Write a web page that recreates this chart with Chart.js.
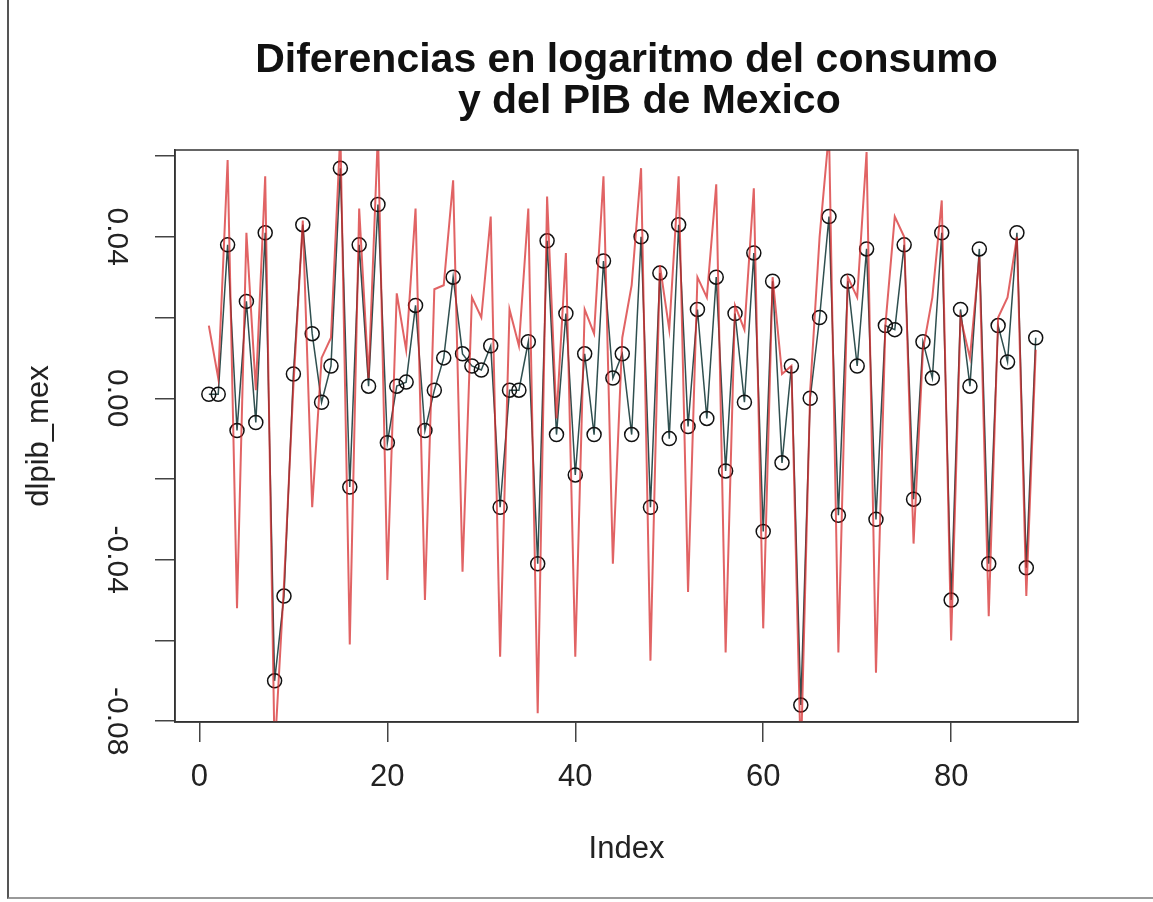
<!DOCTYPE html>
<html>
<head>
<meta charset="utf-8">
<script src="https://cdn.jsdelivr.net/npm/chart.js@4.4.0/dist/chart.umd.min.js"></script>
<style>
  html, body { margin: 0; padding: 0; background: #fff; }
  #wrap { position: relative; width: 1153px; height: 902px; }
  #frame {
    position: absolute; left: 7px; top: 0; width: 1146px; height: 897px;
    border-left: 2px solid #555; border-bottom: 2px solid #999;
    pointer-events: none;
  }
</style>
</head>
<body>
<div id="wrap">
  <canvas id="myChart" width="1153" height="902"></canvas>
  <div id="frame"></div>
</div>
<script>
// differences in log of GDP (black circles) and consumption (red line), Mexico
const dlpib_mex = [
  0.001, 0.001, 0.038, -0.008, 0.024, -0.006, 0.041, -0.070, -0.049, 0.006,
  0.043, 0.016, -0.001, 0.008, 0.057, -0.022, 0.038, 0.003, 0.048, -0.011,
  0.003, 0.004, 0.023, -0.008, 0.002, 0.010, 0.030, 0.011, 0.008, 0.007,
  0.013, -0.027, 0.002, 0.002, 0.014, -0.041, 0.039, -0.009, 0.021, -0.019,
  0.011, -0.009, 0.034, 0.005, 0.011, -0.009, 0.040, -0.027, 0.031, -0.010,
  0.043, -0.007, 0.022, -0.005, 0.030, -0.018, 0.021, -0.001, 0.036, -0.033,
  0.029, -0.016, 0.008, -0.076, 0.000, 0.020, 0.045, -0.029, 0.029, 0.008,
  0.037, -0.030, 0.018, 0.017, 0.038, -0.025, 0.014, 0.005, 0.041, -0.050,
  0.022, 0.003, 0.037, -0.041, 0.018, 0.009, 0.041, -0.042, 0.015
];
const dlcons_mex = [
  0.018, 0.005, 0.059, -0.052, 0.041, 0.002, 0.055, -0.088, -0.046, 0.003,
  0.044, -0.027, 0.010, 0.015, 0.066, -0.061, 0.047, 0.005, 0.066, -0.045,
  0.026, 0.012, 0.047, -0.050, 0.027, 0.028, 0.054, -0.043, 0.025, 0.020,
  0.045, -0.064, 0.022, 0.013, 0.047, -0.078, 0.050, -0.005, 0.036, -0.064,
  0.022, 0.016, 0.055, -0.041, 0.015, 0.028, 0.057, -0.065, 0.033, 0.017,
  0.055, -0.048, 0.030, 0.025, 0.053, -0.063, 0.023, 0.017, 0.052, -0.057,
  0.030, 0.006, 0.008, -0.090, 0.002, 0.040, 0.066, -0.063, 0.030, 0.025,
  0.061, -0.068, 0.018, 0.045, 0.040, -0.036, 0.012, 0.025, 0.049, -0.060,
  0.020, 0.010, 0.035, -0.054, 0.020, 0.025, 0.040, -0.049, 0.012
];
const xTicks = [0, 20, 40, 60, 80];
const yTicks = [-0.08, -0.06, -0.04, -0.02, 0, 0.02, 0.04, 0.06];
const yLabels = [-0.08, -0.04, 0, 0.04]; // R drops every other label

const index = dlpib_mex.map((v, i) => i + 1);
const toPoints = arr => arr.map((v, i) => ({ x: index[i], y: v }));

Chart.defaults.font.family = "'Liberation Sans', Arial, Helvetica, sans-serif";
Chart.defaults.color = '#222';

// the box round the plot region, like R's box()
const boxPlugin = {
  id: 'box',
  afterDatasetsDraw(chart) {
    const { ctx, chartArea: a } = chart;
    ctx.save();
    ctx.strokeStyle = '#333';
    ctx.lineWidth = 1.5;
    ctx.strokeRect(a.left, a.top, a.right - a.left, a.bottom - a.top);
    ctx.restore();
  }
};

const context = document.getElementById('myChart').getContext('2d');
const myChart = new Chart(context, {
  type: 'line',
  data: {
    datasets: [
      {
        label: 'dlcons_mex',
        data: toPoints(dlcons_mex),
        borderColor: 'rgba(214, 39, 40, 0.72)',
        borderWidth: 2,
        pointRadius: 0,
        tension: 0,
        fill: false,
        clip: 0
      },
      {
        label: 'dlpib_mex',
        data: toPoints(dlpib_mex),
        borderColor: '#2f4f4f',
        borderWidth: 1.5,
        pointRadius: 7,
        pointBorderColor: '#111',
        pointBackgroundColor: 'rgba(0,0,0,0)',
        pointBorderWidth: 1.5,
        tension: 0,
        fill: false
      }
    ]
  },
  options: {
    responsive: false,
    animation: false,
    layout: { padding: { left: 15, right: 75, top: 0, bottom: 0 } },
    scales: {
      x: {
        type: 'linear',
        min: -2.6,
        max: 93.5,
        afterBuildTicks: s => { s.ticks = xTicks.map(v => ({ value: v })); },
        afterFit: s => { s.height = 180; },
        grid: { drawOnChartArea: false, drawTicks: true, tickLength: 20, color: '#444', lineWidth: 1.5 },
        border: { display: true, color: '#333', width: 1.5 },
        ticks: {
          font: { size: 31 },
          color: '#222',
          padding: 17,
          callback: v => String(v)
        },
        title: {
          display: true,
          text: 'Index',
          font: { size: 31 },
          color: '#222',
          padding: { top: 0, bottom: 34 }
        }
      },
      y: {
        type: 'linear',
        min: -0.0802,
        max: 0.0615,
        afterBuildTicks: s => { s.ticks = yTicks.map(v => ({ value: v })); },
        afterFit: s => { s.width = 160; },
        grid: { drawOnChartArea: false, drawTicks: true, tickLength: 20, color: '#444', lineWidth: 1.5 },
        border: { display: true, color: '#333', width: 1.5 },
        ticks: {
          font: { size: 30 },
          color: '#222',
          padding: 5,
          minRotation: -90,
          crossAlign: 'center',
          callback: v => yLabels.some(l => Math.abs(l - v) < 1e-9) ? v.toFixed(2) : ''
        },
        title: {
          display: true,
          text: 'dlpib_mex',
          font: { size: 31 },
          color: '#222',
          padding: { top: 6, bottom: 0 }
        }
      }
    },
    plugins: {
      legend: { display: false },
      tooltip: { enabled: false },
      title: {
        display: true,
        fullSize: false,
        text: ['Diferencias en logaritmo del consumo', '    y del PIB de Mexico'],
        font: { size: 41, weight: 'bold', lineHeight: 1.0 },
        color: '#111',
        padding: { top: 40, bottom: 28 }
      }
    }
  },
  plugins: [boxPlugin]
});
</script>
</body>
</html>
